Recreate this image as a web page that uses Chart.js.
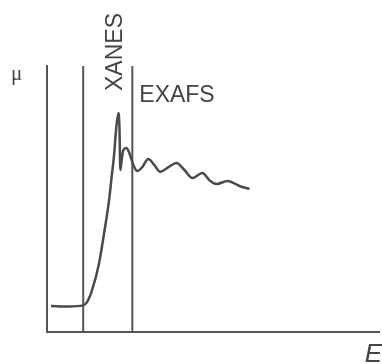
<!DOCTYPE html>
<html>
<head>
<meta charset="utf-8">
<script src="https://cdn.jsdelivr.net/npm/chart.js@4.4.1/dist/chart.umd.min.js"></script>
<style>
  html, body { margin: 0; padding: 0; background: #fff; }
  #wrap { width: 382px; height: 364px; }
</style>
</head>
<body>
<div id="wrap"><canvas id="myChart" width="382" height="364"></canvas></div>
<script>
// energy (arbitrary units) and absorption mu
const energy = [1.2, 6.6, 10.9, 12.1, 13.6, 15.7, 17.2, 18.7, 19.6, 20.2, 20.8, 21.5, 21.8, 22.1,
  22.5, 23.0, 23.9, 24.8, 26.0, 27.2, 28.7, 30.5, 32.3, 34.1, 36.6, 39.0, 41.4, 43.8, 46.8,
  48.9, 51.1, 54.4, 58.0, 61.0];
const mu = [9.8, 9.6, 10.0, 11.3, 15.8, 25.9, 37.2, 49.6, 59.8, 66.5, 75.9, 82.3, 77.8, 60.9,
  64.7, 68.4, 69.2, 67.3, 62.8, 60.5, 62.0, 65.0, 62.8, 60.2, 62.0, 63.5, 60.9, 57.9, 59.8,
  57.1, 55.6, 56.8, 54.9, 53.8];

// region boundaries (edge start, XANES / EXAFS split)
const edgeStart = 10.9;
const exafsStart = 25.7;

const lineColor = "#4a4a4a";
const textColor = "#444";

const spectrum = energy.map((e, i) => ({x: e, y: mu[i]}));

function vline(x) {
  return {
    data: [{x: x, y: 0}, {x: x, y: 100}],
    borderColor: "#555",
    borderWidth: 2,
    pointRadius: 0,
    tension: 0,
  };
}

// labels drawn on top of the plot
const labels = {
  id: "labels",
  afterDraw(chart) {
    const ctx = chart.ctx;
    const xs = chart.scales.x;
    const ys = chart.scales.y;
    const area = chart.chartArea;
    ctx.save();
    ctx.fillStyle = textColor;

    ctx.font = "21px 'Liberation Serif'";
    ctx.textAlign = "left";
    ctx.textBaseline = "alphabetic";
    ctx.fillText("\u03bc", 11, area.top + 14);

    ctx.font = "23px 'Liberation Sans'";
    ctx.fillText("EXAFS", xs.getPixelForValue(27.8), ys.getPixelForValue(86.6));

    ctx.save();
    ctx.translate(xs.getPixelForValue(20.7), area.top - 14);
    ctx.rotate(-Math.PI / 2);
    ctx.textAlign = "center";
    ctx.textBaseline = "middle";
    ctx.fillText("XANES", 0, 0);
    ctx.restore();

    ctx.font = "italic 26px 'Liberation Sans'";
    ctx.textAlign = "right";
    ctx.fillText("E", 382, 362);
    ctx.restore();
  }
};

const config = {
  type: "line",
  data: {
    datasets: [
      {
        data: spectrum,
        borderColor: lineColor,
        borderWidth: 2.5,
        pointRadius: 0,
        cubicInterpolationMode: "monotone",
      },
      vline(edgeStart),
      vline(exafsStart),
    ],
  },
  options: {
    responsive: false,
    animation: false,
    layout: {
      padding: {left: 47, right: 3, top: 66, bottom: 32},
    },
    plugins: {
      legend: {display: false},
      tooltip: {enabled: false},
    },
    scales: {
      x: {
        type: "linear",
        min: 0,
        max: 100,
        ticks: {display: false, padding: 0},
        grid: {display: false, drawTicks: false},
        border: {display: true, color: "#555", width: 2},
      },
      y: {
        min: 0,
        max: 100,
        ticks: {display: false, padding: 0},
        grid: {display: false, drawTicks: false},
        border: {display: true, color: "#555", width: 2},
      },
    },
  },
  plugins: [labels],
};

new Chart(document.getElementById("myChart"), config);
</script>
</body>
</html>
